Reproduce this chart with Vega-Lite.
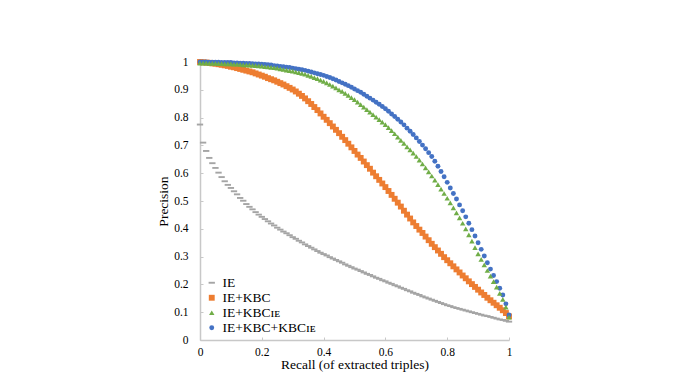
{
  "$schema": "https://vega.github.io/schema/vega-lite/v6.json",
  "width": 309,
  "height": 278,
  "autosize": {"type": "none"},
  "padding": {"left": 200, "top": 62, "right": 168, "bottom": 39},
  "background": "white",
  "config": {
    "view": {"stroke": null},
    "font": "Liberation Serif",
    "axis": {
      "grid": false,
      "domainColor": "#c8c8c8",
      "domainWidth": 1.5,
      "tickColor": "#c8c8c8",
      "tickSize": -3,
      "tickWidth": 1,
      "labelFlush": false,
      "labelOverlap": false,
      "labelFont": "Liberation Serif",
      "labelFontSize": 11.5,
      "labelColor": "#000000",
      "titleFont": "Liberation Serif",
      "titleFontSize": 13.5,
      "titleFontWeight": "normal",
      "titleColor": "#000000"
    },
    "legend": {
      "labelFont": "Liberation Serif",
      "labelFontSize": 13.5,
      "labelColor": "#000000"
    }
  },
  "data": {
    "values": [
      {"s":"IE","r":0.00,"p":0.775},{"s":"IE","r":0.01,"p":0.71},{"s":"IE","r":0.02,"p":0.68},{"s":"IE","r":0.03,"p":0.655},{"s":"IE","r":0.04,"p":0.636},{"s":"IE","r":0.05,"p":0.619},{"s":"IE","r":0.06,"p":0.602},{"s":"IE","r":0.07,"p":0.586},{"s":"IE","r":0.08,"p":0.571},{"s":"IE","r":0.09,"p":0.558},
      {"s":"IE","r":0.10,"p":0.547},{"s":"IE","r":0.11,"p":0.535},{"s":"IE","r":0.12,"p":0.524},{"s":"IE","r":0.13,"p":0.511},{"s":"IE","r":0.14,"p":0.501},{"s":"IE","r":0.15,"p":0.489},{"s":"IE","r":0.16,"p":0.479},{"s":"IE","r":0.17,"p":0.47},{"s":"IE","r":0.18,"p":0.46},{"s":"IE","r":0.19,"p":0.451},
      {"s":"IE","r":0.20,"p":0.443},{"s":"IE","r":0.21,"p":0.435},{"s":"IE","r":0.22,"p":0.427},{"s":"IE","r":0.23,"p":0.419},{"s":"IE","r":0.24,"p":0.412},{"s":"IE","r":0.25,"p":0.404},{"s":"IE","r":0.26,"p":0.397},{"s":"IE","r":0.27,"p":0.39},{"s":"IE","r":0.28,"p":0.384},{"s":"IE","r":0.29,"p":0.377},
      {"s":"IE","r":0.30,"p":0.37},{"s":"IE","r":0.31,"p":0.364},{"s":"IE","r":0.32,"p":0.357},{"s":"IE","r":0.33,"p":0.351},{"s":"IE","r":0.34,"p":0.344},{"s":"IE","r":0.35,"p":0.338},{"s":"IE","r":0.36,"p":0.332},{"s":"IE","r":0.37,"p":0.326},{"s":"IE","r":0.38,"p":0.32},{"s":"IE","r":0.39,"p":0.314},
      {"s":"IE","r":0.40,"p":0.309},{"s":"IE","r":0.41,"p":0.304},{"s":"IE","r":0.42,"p":0.298},{"s":"IE","r":0.43,"p":0.293},{"s":"IE","r":0.44,"p":0.288},{"s":"IE","r":0.45,"p":0.283},{"s":"IE","r":0.46,"p":0.278},{"s":"IE","r":0.47,"p":0.272},{"s":"IE","r":0.48,"p":0.267},{"s":"IE","r":0.49,"p":0.262},
      {"s":"IE","r":0.50,"p":0.257},{"s":"IE","r":0.51,"p":0.253},{"s":"IE","r":0.52,"p":0.248},{"s":"IE","r":0.53,"p":0.243},{"s":"IE","r":0.54,"p":0.238},{"s":"IE","r":0.55,"p":0.234},{"s":"IE","r":0.56,"p":0.229},{"s":"IE","r":0.57,"p":0.224},{"s":"IE","r":0.58,"p":0.22},{"s":"IE","r":0.59,"p":0.215},
      {"s":"IE","r":0.60,"p":0.211},{"s":"IE","r":0.61,"p":0.206},{"s":"IE","r":0.62,"p":0.202},{"s":"IE","r":0.63,"p":0.197},{"s":"IE","r":0.64,"p":0.193},{"s":"IE","r":0.65,"p":0.188},{"s":"IE","r":0.66,"p":0.184},{"s":"IE","r":0.67,"p":0.179},{"s":"IE","r":0.68,"p":0.175},{"s":"IE","r":0.69,"p":0.17},
      {"s":"IE","r":0.70,"p":0.166},{"s":"IE","r":0.71,"p":0.162},{"s":"IE","r":0.72,"p":0.157},{"s":"IE","r":0.73,"p":0.153},{"s":"IE","r":0.74,"p":0.149},{"s":"IE","r":0.75,"p":0.145},{"s":"IE","r":0.76,"p":0.141},{"s":"IE","r":0.77,"p":0.137},{"s":"IE","r":0.78,"p":0.133},{"s":"IE","r":0.79,"p":0.129},
      {"s":"IE","r":0.80,"p":0.125},{"s":"IE","r":0.81,"p":0.122},{"s":"IE","r":0.82,"p":0.118},{"s":"IE","r":0.83,"p":0.115},{"s":"IE","r":0.84,"p":0.112},{"s":"IE","r":0.85,"p":0.109},{"s":"IE","r":0.86,"p":0.106},{"s":"IE","r":0.87,"p":0.103},{"s":"IE","r":0.88,"p":0.1},{"s":"IE","r":0.89,"p":0.097},
      {"s":"IE","r":0.90,"p":0.094},{"s":"IE","r":0.91,"p":0.091},{"s":"IE","r":0.92,"p":0.088},{"s":"IE","r":0.93,"p":0.086},{"s":"IE","r":0.94,"p":0.083},{"s":"IE","r":0.95,"p":0.08},{"s":"IE","r":0.96,"p":0.077},{"s":"IE","r":0.97,"p":0.074},{"s":"IE","r":0.98,"p":0.072},{"s":"IE","r":0.99,"p":0.069},{"s":"IE","r":1.00,"p":0.066},

      {"s":"IE+KBC","r":0.00,"p":1.0},{"s":"IE+KBC","r":0.01,"p":0.999},{"s":"IE+KBC","r":0.02,"p":0.998},{"s":"IE+KBC","r":0.03,"p":0.997},{"s":"IE+KBC","r":0.04,"p":0.995},{"s":"IE+KBC","r":0.05,"p":0.994},{"s":"IE+KBC","r":0.06,"p":0.992},{"s":"IE+KBC","r":0.07,"p":0.99},{"s":"IE+KBC","r":0.08,"p":0.988},{"s":"IE+KBC","r":0.09,"p":0.986},
      {"s":"IE+KBC","r":0.10,"p":0.983},{"s":"IE+KBC","r":0.11,"p":0.981},{"s":"IE+KBC","r":0.12,"p":0.978},{"s":"IE+KBC","r":0.13,"p":0.975},{"s":"IE+KBC","r":0.14,"p":0.972},{"s":"IE+KBC","r":0.15,"p":0.969},{"s":"IE+KBC","r":0.16,"p":0.966},{"s":"IE+KBC","r":0.17,"p":0.963},{"s":"IE+KBC","r":0.18,"p":0.959},{"s":"IE+KBC","r":0.19,"p":0.955},
      {"s":"IE+KBC","r":0.20,"p":0.951},{"s":"IE+KBC","r":0.21,"p":0.947},{"s":"IE+KBC","r":0.22,"p":0.942},{"s":"IE+KBC","r":0.23,"p":0.938},{"s":"IE+KBC","r":0.24,"p":0.934},{"s":"IE+KBC","r":0.25,"p":0.929},{"s":"IE+KBC","r":0.26,"p":0.924},{"s":"IE+KBC","r":0.27,"p":0.919},{"s":"IE+KBC","r":0.28,"p":0.913},{"s":"IE+KBC","r":0.29,"p":0.907},
      {"s":"IE+KBC","r":0.30,"p":0.901},{"s":"IE+KBC","r":0.31,"p":0.894},{"s":"IE+KBC","r":0.32,"p":0.886},{"s":"IE+KBC","r":0.33,"p":0.878},{"s":"IE+KBC","r":0.34,"p":0.869},{"s":"IE+KBC","r":0.35,"p":0.859},{"s":"IE+KBC","r":0.36,"p":0.849},{"s":"IE+KBC","r":0.37,"p":0.838},{"s":"IE+KBC","r":0.38,"p":0.827},{"s":"IE+KBC","r":0.39,"p":0.815},
      {"s":"IE+KBC","r":0.40,"p":0.803},{"s":"IE+KBC","r":0.41,"p":0.792},{"s":"IE+KBC","r":0.42,"p":0.78},{"s":"IE+KBC","r":0.43,"p":0.768},{"s":"IE+KBC","r":0.44,"p":0.756},{"s":"IE+KBC","r":0.45,"p":0.744},{"s":"IE+KBC","r":0.46,"p":0.731},{"s":"IE+KBC","r":0.47,"p":0.719},{"s":"IE+KBC","r":0.48,"p":0.706},{"s":"IE+KBC","r":0.49,"p":0.693},
      {"s":"IE+KBC","r":0.50,"p":0.68},{"s":"IE+KBC","r":0.51,"p":0.667},{"s":"IE+KBC","r":0.52,"p":0.655},{"s":"IE+KBC","r":0.53,"p":0.642},{"s":"IE+KBC","r":0.54,"p":0.629},{"s":"IE+KBC","r":0.55,"p":0.616},{"s":"IE+KBC","r":0.56,"p":0.602},{"s":"IE+KBC","r":0.57,"p":0.589},{"s":"IE+KBC","r":0.58,"p":0.576},{"s":"IE+KBC","r":0.59,"p":0.563},
      {"s":"IE+KBC","r":0.60,"p":0.55},{"s":"IE+KBC","r":0.61,"p":0.536},{"s":"IE+KBC","r":0.62,"p":0.522},{"s":"IE+KBC","r":0.63,"p":0.508},{"s":"IE+KBC","r":0.64,"p":0.494},{"s":"IE+KBC","r":0.65,"p":0.48},{"s":"IE+KBC","r":0.66,"p":0.465},{"s":"IE+KBC","r":0.67,"p":0.451},{"s":"IE+KBC","r":0.68,"p":0.437},{"s":"IE+KBC","r":0.69,"p":0.423},
      {"s":"IE+KBC","r":0.70,"p":0.41},{"s":"IE+KBC","r":0.71,"p":0.397},{"s":"IE+KBC","r":0.72,"p":0.385},{"s":"IE+KBC","r":0.73,"p":0.372},{"s":"IE+KBC","r":0.74,"p":0.359},{"s":"IE+KBC","r":0.75,"p":0.346},{"s":"IE+KBC","r":0.76,"p":0.334},{"s":"IE+KBC","r":0.77,"p":0.322},{"s":"IE+KBC","r":0.78,"p":0.31},{"s":"IE+KBC","r":0.79,"p":0.298},
      {"s":"IE+KBC","r":0.80,"p":0.287},{"s":"IE+KBC","r":0.81,"p":0.276},{"s":"IE+KBC","r":0.82,"p":0.265},{"s":"IE+KBC","r":0.83,"p":0.254},{"s":"IE+KBC","r":0.84,"p":0.243},{"s":"IE+KBC","r":0.85,"p":0.232},{"s":"IE+KBC","r":0.86,"p":0.222},{"s":"IE+KBC","r":0.87,"p":0.211},{"s":"IE+KBC","r":0.88,"p":0.201},{"s":"IE+KBC","r":0.89,"p":0.191},
      {"s":"IE+KBC","r":0.90,"p":0.181},{"s":"IE+KBC","r":0.91,"p":0.171},{"s":"IE+KBC","r":0.92,"p":0.162},{"s":"IE+KBC","r":0.93,"p":0.152},{"s":"IE+KBC","r":0.94,"p":0.143},{"s":"IE+KBC","r":0.95,"p":0.134},{"s":"IE+KBC","r":0.96,"p":0.125},{"s":"IE+KBC","r":0.97,"p":0.116},{"s":"IE+KBC","r":0.98,"p":0.107},{"s":"IE+KBC","r":0.99,"p":0.097},{"s":"IE+KBC","r":1.00,"p":0.085},

      {"s":"IE+KBC_IE","r":0.00,"p":0.996},{"s":"IE+KBC_IE","r":0.01,"p":0.996},{"s":"IE+KBC_IE","r":0.02,"p":0.996},{"s":"IE+KBC_IE","r":0.03,"p":0.995},{"s":"IE+KBC_IE","r":0.04,"p":0.995},{"s":"IE+KBC_IE","r":0.05,"p":0.995},{"s":"IE+KBC_IE","r":0.06,"p":0.994},{"s":"IE+KBC_IE","r":0.07,"p":0.994},{"s":"IE+KBC_IE","r":0.08,"p":0.993},{"s":"IE+KBC_IE","r":0.09,"p":0.993},
      {"s":"IE+KBC_IE","r":0.10,"p":0.993},{"s":"IE+KBC_IE","r":0.11,"p":0.992},{"s":"IE+KBC_IE","r":0.12,"p":0.992},{"s":"IE+KBC_IE","r":0.13,"p":0.991},{"s":"IE+KBC_IE","r":0.14,"p":0.99},{"s":"IE+KBC_IE","r":0.15,"p":0.99},{"s":"IE+KBC_IE","r":0.16,"p":0.989},{"s":"IE+KBC_IE","r":0.17,"p":0.988},{"s":"IE+KBC_IE","r":0.18,"p":0.987},{"s":"IE+KBC_IE","r":0.19,"p":0.986},
      {"s":"IE+KBC_IE","r":0.20,"p":0.985},{"s":"IE+KBC_IE","r":0.21,"p":0.983},{"s":"IE+KBC_IE","r":0.22,"p":0.982},{"s":"IE+KBC_IE","r":0.23,"p":0.981},{"s":"IE+KBC_IE","r":0.24,"p":0.98},{"s":"IE+KBC_IE","r":0.25,"p":0.978},{"s":"IE+KBC_IE","r":0.26,"p":0.975},{"s":"IE+KBC_IE","r":0.27,"p":0.973},{"s":"IE+KBC_IE","r":0.28,"p":0.971},{"s":"IE+KBC_IE","r":0.29,"p":0.969},
      {"s":"IE+KBC_IE","r":0.30,"p":0.967},{"s":"IE+KBC_IE","r":0.31,"p":0.964},{"s":"IE+KBC_IE","r":0.32,"p":0.962},{"s":"IE+KBC_IE","r":0.33,"p":0.959},{"s":"IE+KBC_IE","r":0.34,"p":0.956},{"s":"IE+KBC_IE","r":0.35,"p":0.952},{"s":"IE+KBC_IE","r":0.36,"p":0.948},{"s":"IE+KBC_IE","r":0.37,"p":0.944},{"s":"IE+KBC_IE","r":0.38,"p":0.94},{"s":"IE+KBC_IE","r":0.39,"p":0.935},
      {"s":"IE+KBC_IE","r":0.40,"p":0.93},{"s":"IE+KBC_IE","r":0.41,"p":0.925},{"s":"IE+KBC_IE","r":0.42,"p":0.919},{"s":"IE+KBC_IE","r":0.43,"p":0.913},{"s":"IE+KBC_IE","r":0.44,"p":0.907},{"s":"IE+KBC_IE","r":0.45,"p":0.9},{"s":"IE+KBC_IE","r":0.46,"p":0.894},{"s":"IE+KBC_IE","r":0.47,"p":0.887},{"s":"IE+KBC_IE","r":0.48,"p":0.88},{"s":"IE+KBC_IE","r":0.49,"p":0.872},
      {"s":"IE+KBC_IE","r":0.50,"p":0.865},{"s":"IE+KBC_IE","r":0.51,"p":0.856},{"s":"IE+KBC_IE","r":0.52,"p":0.847},{"s":"IE+KBC_IE","r":0.53,"p":0.838},{"s":"IE+KBC_IE","r":0.54,"p":0.829},{"s":"IE+KBC_IE","r":0.55,"p":0.82},{"s":"IE+KBC_IE","r":0.56,"p":0.811},{"s":"IE+KBC_IE","r":0.57,"p":0.802},{"s":"IE+KBC_IE","r":0.58,"p":0.793},{"s":"IE+KBC_IE","r":0.59,"p":0.784},
      {"s":"IE+KBC_IE","r":0.60,"p":0.775},{"s":"IE+KBC_IE","r":0.61,"p":0.764},{"s":"IE+KBC_IE","r":0.62,"p":0.753},{"s":"IE+KBC_IE","r":0.63,"p":0.742},{"s":"IE+KBC_IE","r":0.64,"p":0.73},{"s":"IE+KBC_IE","r":0.65,"p":0.718},{"s":"IE+KBC_IE","r":0.66,"p":0.707},{"s":"IE+KBC_IE","r":0.67,"p":0.695},{"s":"IE+KBC_IE","r":0.68,"p":0.684},{"s":"IE+KBC_IE","r":0.69,"p":0.672},
      {"s":"IE+KBC_IE","r":0.70,"p":0.66},{"s":"IE+KBC_IE","r":0.71,"p":0.647},{"s":"IE+KBC_IE","r":0.72,"p":0.633},{"s":"IE+KBC_IE","r":0.73,"p":0.619},{"s":"IE+KBC_IE","r":0.74,"p":0.605},{"s":"IE+KBC_IE","r":0.75,"p":0.59},{"s":"IE+KBC_IE","r":0.76,"p":0.575},{"s":"IE+KBC_IE","r":0.77,"p":0.559},{"s":"IE+KBC_IE","r":0.78,"p":0.543},{"s":"IE+KBC_IE","r":0.79,"p":0.527},
      {"s":"IE+KBC_IE","r":0.80,"p":0.51},{"s":"IE+KBC_IE","r":0.81,"p":0.493},{"s":"IE+KBC_IE","r":0.82,"p":0.475},{"s":"IE+KBC_IE","r":0.83,"p":0.457},{"s":"IE+KBC_IE","r":0.84,"p":0.439},{"s":"IE+KBC_IE","r":0.85,"p":0.42},{"s":"IE+KBC_IE","r":0.86,"p":0.4},{"s":"IE+KBC_IE","r":0.87,"p":0.378},{"s":"IE+KBC_IE","r":0.88,"p":0.356},{"s":"IE+KBC_IE","r":0.89,"p":0.332},
      {"s":"IE+KBC_IE","r":0.90,"p":0.31},{"s":"IE+KBC_IE","r":0.91,"p":0.29},{"s":"IE+KBC_IE","r":0.92,"p":0.27},{"s":"IE+KBC_IE","r":0.93,"p":0.25},{"s":"IE+KBC_IE","r":0.94,"p":0.23},{"s":"IE+KBC_IE","r":0.95,"p":0.21},{"s":"IE+KBC_IE","r":0.96,"p":0.19},{"s":"IE+KBC_IE","r":0.97,"p":0.168},{"s":"IE+KBC_IE","r":0.98,"p":0.146},{"s":"IE+KBC_IE","r":0.99,"p":0.118},{"s":"IE+KBC_IE","r":1.00,"p":0.082},

      {"s":"IE+KBC+KBC_IE","r":0.00,"p":1.0},{"s":"IE+KBC+KBC_IE","r":0.01,"p":1.0},{"s":"IE+KBC+KBC_IE","r":0.02,"p":1.0},{"s":"IE+KBC+KBC_IE","r":0.03,"p":0.999},{"s":"IE+KBC+KBC_IE","r":0.04,"p":0.999},{"s":"IE+KBC+KBC_IE","r":0.05,"p":0.999},{"s":"IE+KBC+KBC_IE","r":0.06,"p":0.999},{"s":"IE+KBC+KBC_IE","r":0.07,"p":0.998},{"s":"IE+KBC+KBC_IE","r":0.08,"p":0.998},{"s":"IE+KBC+KBC_IE","r":0.09,"p":0.998},
      {"s":"IE+KBC+KBC_IE","r":0.10,"p":0.998},{"s":"IE+KBC+KBC_IE","r":0.11,"p":0.997},{"s":"IE+KBC+KBC_IE","r":0.12,"p":0.997},{"s":"IE+KBC+KBC_IE","r":0.13,"p":0.996},{"s":"IE+KBC+KBC_IE","r":0.14,"p":0.996},{"s":"IE+KBC+KBC_IE","r":0.15,"p":0.995},{"s":"IE+KBC+KBC_IE","r":0.16,"p":0.995},{"s":"IE+KBC+KBC_IE","r":0.17,"p":0.994},{"s":"IE+KBC+KBC_IE","r":0.18,"p":0.993},{"s":"IE+KBC+KBC_IE","r":0.19,"p":0.993},
      {"s":"IE+KBC+KBC_IE","r":0.20,"p":0.992},{"s":"IE+KBC+KBC_IE","r":0.21,"p":0.991},{"s":"IE+KBC+KBC_IE","r":0.22,"p":0.99},{"s":"IE+KBC+KBC_IE","r":0.23,"p":0.989},{"s":"IE+KBC+KBC_IE","r":0.24,"p":0.987},{"s":"IE+KBC+KBC_IE","r":0.25,"p":0.986},{"s":"IE+KBC+KBC_IE","r":0.26,"p":0.984},{"s":"IE+KBC+KBC_IE","r":0.27,"p":0.983},{"s":"IE+KBC+KBC_IE","r":0.28,"p":0.981},{"s":"IE+KBC+KBC_IE","r":0.29,"p":0.98},
      {"s":"IE+KBC+KBC_IE","r":0.30,"p":0.978},{"s":"IE+KBC+KBC_IE","r":0.31,"p":0.976},{"s":"IE+KBC+KBC_IE","r":0.32,"p":0.974},{"s":"IE+KBC+KBC_IE","r":0.33,"p":0.972},{"s":"IE+KBC+KBC_IE","r":0.34,"p":0.97},{"s":"IE+KBC+KBC_IE","r":0.35,"p":0.967},{"s":"IE+KBC+KBC_IE","r":0.36,"p":0.964},{"s":"IE+KBC+KBC_IE","r":0.37,"p":0.961},{"s":"IE+KBC+KBC_IE","r":0.38,"p":0.958},{"s":"IE+KBC+KBC_IE","r":0.39,"p":0.955},
      {"s":"IE+KBC+KBC_IE","r":0.40,"p":0.952},{"s":"IE+KBC+KBC_IE","r":0.41,"p":0.948},{"s":"IE+KBC+KBC_IE","r":0.42,"p":0.944},{"s":"IE+KBC+KBC_IE","r":0.43,"p":0.94},{"s":"IE+KBC+KBC_IE","r":0.44,"p":0.935},{"s":"IE+KBC+KBC_IE","r":0.45,"p":0.93},{"s":"IE+KBC+KBC_IE","r":0.46,"p":0.925},{"s":"IE+KBC+KBC_IE","r":0.47,"p":0.92},{"s":"IE+KBC+KBC_IE","r":0.48,"p":0.915},{"s":"IE+KBC+KBC_IE","r":0.49,"p":0.909},
      {"s":"IE+KBC+KBC_IE","r":0.50,"p":0.903},{"s":"IE+KBC+KBC_IE","r":0.51,"p":0.897},{"s":"IE+KBC+KBC_IE","r":0.52,"p":0.891},{"s":"IE+KBC+KBC_IE","r":0.53,"p":0.884},{"s":"IE+KBC+KBC_IE","r":0.54,"p":0.877},{"s":"IE+KBC+KBC_IE","r":0.55,"p":0.87},{"s":"IE+KBC+KBC_IE","r":0.56,"p":0.863},{"s":"IE+KBC+KBC_IE","r":0.57,"p":0.855},{"s":"IE+KBC+KBC_IE","r":0.58,"p":0.848},{"s":"IE+KBC+KBC_IE","r":0.59,"p":0.84},
      {"s":"IE+KBC+KBC_IE","r":0.60,"p":0.832},{"s":"IE+KBC+KBC_IE","r":0.61,"p":0.823},{"s":"IE+KBC+KBC_IE","r":0.62,"p":0.813},{"s":"IE+KBC+KBC_IE","r":0.63,"p":0.804},{"s":"IE+KBC+KBC_IE","r":0.64,"p":0.794},{"s":"IE+KBC+KBC_IE","r":0.65,"p":0.784},{"s":"IE+KBC+KBC_IE","r":0.66,"p":0.774},{"s":"IE+KBC+KBC_IE","r":0.67,"p":0.762},{"s":"IE+KBC+KBC_IE","r":0.68,"p":0.751},{"s":"IE+KBC+KBC_IE","r":0.69,"p":0.739},
      {"s":"IE+KBC+KBC_IE","r":0.70,"p":0.727},{"s":"IE+KBC+KBC_IE","r":0.71,"p":0.714},{"s":"IE+KBC+KBC_IE","r":0.72,"p":0.701},{"s":"IE+KBC+KBC_IE","r":0.73,"p":0.688},{"s":"IE+KBC+KBC_IE","r":0.74,"p":0.674},{"s":"IE+KBC+KBC_IE","r":0.75,"p":0.66},{"s":"IE+KBC+KBC_IE","r":0.76,"p":0.643},{"s":"IE+KBC+KBC_IE","r":0.77,"p":0.625},{"s":"IE+KBC+KBC_IE","r":0.78,"p":0.606},{"s":"IE+KBC+KBC_IE","r":0.79,"p":0.587},
      {"s":"IE+KBC+KBC_IE","r":0.80,"p":0.567},{"s":"IE+KBC+KBC_IE","r":0.81,"p":0.547},{"s":"IE+KBC+KBC_IE","r":0.82,"p":0.527},{"s":"IE+KBC+KBC_IE","r":0.83,"p":0.507},{"s":"IE+KBC+KBC_IE","r":0.84,"p":0.486},{"s":"IE+KBC+KBC_IE","r":0.85,"p":0.465},{"s":"IE+KBC+KBC_IE","r":0.86,"p":0.443},{"s":"IE+KBC+KBC_IE","r":0.87,"p":0.42},{"s":"IE+KBC+KBC_IE","r":0.88,"p":0.397},{"s":"IE+KBC+KBC_IE","r":0.89,"p":0.374},
      {"s":"IE+KBC+KBC_IE","r":0.90,"p":0.35},{"s":"IE+KBC+KBC_IE","r":0.91,"p":0.326},{"s":"IE+KBC+KBC_IE","r":0.92,"p":0.302},{"s":"IE+KBC+KBC_IE","r":0.93,"p":0.278},{"s":"IE+KBC+KBC_IE","r":0.94,"p":0.255},{"s":"IE+KBC+KBC_IE","r":0.95,"p":0.232},{"s":"IE+KBC+KBC_IE","r":0.96,"p":0.21},{"s":"IE+KBC+KBC_IE","r":0.97,"p":0.186},{"s":"IE+KBC+KBC_IE","r":0.98,"p":0.162},{"s":"IE+KBC+KBC_IE","r":0.99,"p":0.13},{"s":"IE+KBC+KBC_IE","r":1.00,"p":0.09}
    ]
  },
  "mark": {"type": "point", "filled": true, "opacity": 1, "strokeWidth": 0},
  "encoding": {
    "x": {
      "field": "r",
      "type": "quantitative",
      "scale": {"domain": [0, 1], "nice": false, "zero": false},
      "axis": {
        "title": "Recall (of extracted triples)",
        "values": [0, 0.2, 0.4, 0.6, 0.8, 1],
        "format": "~g",
        "labelPadding": 9,
        "titlePadding": 0
      }
    },
    "y": {
      "field": "p",
      "type": "quantitative",
      "scale": {"domain": [0, 1], "nice": false, "zero": false},
      "axis": {
        "title": "Precision",
        "values": [0, 0.1, 0.2, 0.3, 0.4, 0.5, 0.6, 0.7, 0.8, 0.9, 1],
        "format": "~g",
        "labelPadding": 15,
        "titlePadding": 3
      }
    },
    "color": {
      "field": "s",
      "type": "nominal",
      "scale": {
        "domain": ["IE", "IE+KBC", "IE+KBC_IE", "IE+KBC+KBC_IE"],
        "range": ["#a5a5a5", "#ed7d31", "#70ad47", "#4472c4"]
      },
      "legend": {
        "title": null,
        "orient": "bottom-left",
        "offset": 5,
        "padding": 0,
        "symbolSize": 60,
        "symbolStrokeWidth": 0,
        "labelOffset": 4,
        "rowPadding": 0,
        "labelExpr": "replace(datum.label, '_IE', 'ɪᴇ')"
      }
    },
    "shape": {
      "field": "s",
      "type": "nominal",
      "scale": {
        "domain": ["IE", "IE+KBC", "IE+KBC_IE", "IE+KBC+KBC_IE"],
        "range": ["M-1,-0.3H1V0.3H-1Z", "square", "triangle-up", "circle"]
      },
      "legend": {
        "title": null,
        "orient": "bottom-left",
        "offset": 5,
        "padding": 0,
        "symbolSize": 60,
        "symbolStrokeWidth": 0,
        "labelOffset": 4,
        "rowPadding": 0,
        "labelExpr": "replace(datum.label, '_IE', 'ɪᴇ')"
      }
    },
    "size": {
      "field": "s",
      "type": "nominal",
      "scale": {
        "domain": ["IE", "IE+KBC", "IE+KBC_IE", "IE+KBC+KBC_IE"],
        "range": [40, 24, 38, 44]
      },
      "legend": null
    },
    "order": {"field": "s", "sort": "ascending"}
  }
}
